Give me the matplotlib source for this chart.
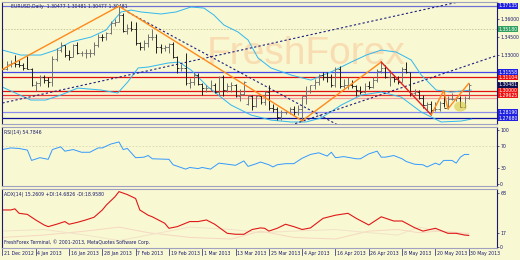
import matplotlib.pyplot as plt
import matplotlib.transforms as mtransforms
from matplotlib.patches import Ellipse

# ---- data ----
date_labels = ['21 Dec 2012', '4 Jan 2013', '16 Jan 2013', '28 Jan 2013', '7 Feb 2013',
               '19 Feb 2013', '1 Mar 2013', '13 Mar 2013', '25 Mar 2013', '4 Apr 2013',
               '16 Apr 2013', '26 Apr 2013', '8 May 2013', '20 May 2013', '30 May 2013']
label_every = 8

opens = [1.3250, 1.3180, 1.3220, 1.3230, 1.3225, 1.3215, 1.3190, 1.3185, 1.3050, 1.3065,
         1.3115, 1.3085, 1.3070, 1.3265, 1.3345, 1.3380, 1.3300, 1.3285, 1.3385, 1.3315,
         1.3315, 1.3315, 1.3320, 1.3385, 1.3455, 1.3450, 1.3485, 1.3570, 1.3580, 1.3635,
         1.3505, 1.3525, 1.3520, 1.3400, 1.3365, 1.3400, 1.3455, 1.3455, 1.3365, 1.3360,
         1.3365, 1.3395, 1.3280, 1.3190, 1.3190, 1.3060, 1.3070, 1.3130, 1.3055, 1.3020,
         1.3025, 1.3050, 1.2985, 1.3110, 1.3005, 1.3035, 1.3045, 1.2955, 1.2970, 1.2890,
         1.2955, 1.2870, 1.2950, 1.2905, 1.2985, 1.2855, 1.2845, 1.2775, 1.2815, 1.2815,
         1.2845, 1.2815, 1.2845, 1.2950, 1.3000, 1.3045, 1.3070, 1.3135, 1.3115, 1.3110,
         1.3045, 1.3180, 1.3040, 1.3045, 1.3050, 1.3035, 1.3005, 1.2985, 1.3040, 1.3030,
         1.3085, 1.3165, 1.3190, 1.3115, 1.3115, 1.3100, 1.3075, 1.3185, 1.3155, 1.2975,
         1.2990, 1.2935, 1.2880, 1.2885, 1.2835, 1.2845, 1.2895, 1.2855, 1.2930, 1.2930,
         1.2935, 1.2860, 1.2940]
highs = [1.3265, 1.3245, 1.3260, 1.3300, 1.3255, 1.3230, 1.3295, 1.3190, 1.3080, 1.3135,
         1.3135, 1.3110, 1.3290, 1.3360, 1.3405, 1.3385, 1.3340, 1.3395, 1.3405, 1.3335,
         1.3350, 1.3350, 1.3405, 1.3480, 1.3475, 1.3495, 1.3585, 1.3600, 1.3711, 1.3650,
         1.3560, 1.3585, 1.3575, 1.3410, 1.3430, 1.3480, 1.3520, 1.3475, 1.3395, 1.3385,
         1.3400, 1.3405, 1.3290, 1.3225, 1.3320, 1.3105, 1.3160, 1.3145, 1.3065, 1.3045,
         1.3085, 1.3060, 1.3125, 1.3130, 1.3060, 1.3075, 1.3055, 1.3010, 1.3080, 1.2965,
         1.2965, 1.2960, 1.2965, 1.3000, 1.3050, 1.2885, 1.2860, 1.2840, 1.2825, 1.2860,
         1.2870, 1.2880, 1.2955, 1.3035, 1.3050, 1.3095, 1.3140, 1.3160, 1.3155, 1.3140,
         1.3200, 1.3205, 1.3100, 1.3110, 1.3090, 1.3045, 1.3035, 1.3060, 1.3080, 1.3110,
         1.3180, 1.3240, 1.3215, 1.3170, 1.3130, 1.3120, 1.3195, 1.3240, 1.3160, 1.3010,
         1.3005, 1.2960, 1.2905, 1.2915, 1.2900, 1.2910, 1.3000, 1.2955, 1.2975, 1.2945,
         1.2955, 1.2955, 1.3060]
lows = [1.3175, 1.3175, 1.3195, 1.3200, 1.3200, 1.3175, 1.3180, 1.3040, 1.2995, 1.3035,
        1.3060, 1.3030, 1.3035, 1.3250, 1.3325, 1.3285, 1.3260, 1.3280, 1.3305, 1.3290,
        1.3270, 1.3285, 1.3300, 1.3370, 1.3420, 1.3430, 1.3475, 1.3545, 1.3575, 1.3495,
        1.3475, 1.3505, 1.3380, 1.3345, 1.3340, 1.3370, 1.3430, 1.3315, 1.3320, 1.3330,
        1.3315, 1.3270, 1.3145, 1.3165, 1.3045, 1.3020, 1.3050, 1.3050, 1.2965, 1.2990,
        1.3000, 1.2975, 1.2965, 1.2955, 1.2990, 1.2985, 1.2945, 1.2910, 1.2960, 1.2880,
        1.2840, 1.2860, 1.2885, 1.2880, 1.2835, 1.2815, 1.2750, 1.2750, 1.2800, 1.2800,
        1.2795, 1.2790, 1.2745, 1.2885, 1.2980, 1.3015, 1.3050, 1.3090, 1.3070, 1.3030,
        1.3030, 1.3025, 1.3025, 1.3010, 1.3020, 1.2955, 1.2970, 1.2975, 1.3010, 1.3025,
        1.3070, 1.3150, 1.3105, 1.3040, 1.3075, 1.3055, 1.3070, 1.3145, 1.2955, 1.2960,
        1.2925, 1.2855, 1.2840, 1.2795, 1.2830, 1.2830, 1.2860, 1.2845, 1.2920, 1.2915,
        1.2860, 1.2855, 1.2925]
closes = [1.3180, 1.3220, 1.3230, 1.3225, 1.3215, 1.3190, 1.3185, 1.3050, 1.3065, 1.3115,
          1.3085, 1.3070, 1.3265, 1.3345, 1.3380, 1.3300, 1.3285, 1.3385, 1.3315, 1.3315,
          1.3315, 1.3320, 1.3385, 1.3455, 1.3450, 1.3485, 1.3570, 1.3580, 1.3635, 1.3505,
          1.3525, 1.3520, 1.3400, 1.3365, 1.3400, 1.3455, 1.3455, 1.3365, 1.3360, 1.3365,
          1.3395, 1.3280, 1.3190, 1.3190, 1.3060, 1.3070, 1.3130, 1.3055, 1.3020, 1.3025,
          1.3050, 1.2985, 1.3110, 1.3005, 1.3035, 1.3045, 1.2955, 1.2970, 1.3075, 1.2955,
          1.2870, 1.2950, 1.2905, 1.2985, 1.2855, 1.2845, 1.2775, 1.2815, 1.2815, 1.2845,
          1.2815, 1.2845, 1.2950, 1.3000, 1.3045, 1.3070, 1.3135, 1.3115, 1.3110, 1.3045,
          1.3180, 1.3040, 1.3045, 1.3050, 1.3035, 1.3005, 1.2985, 1.3040, 1.3030, 1.3085,
          1.3165, 1.3190, 1.3115, 1.3115, 1.3100, 1.3075, 1.3185, 1.3155, 1.2975, 1.2990,
          1.2935, 1.2880, 1.2885, 1.2835, 1.2845, 1.2895, 1.2855, 1.2930, 1.2930, 1.2935,
          1.2860, 1.2940, 1.3048]

# bollinger-like envelope (bar index, price)
band_x = [0, 4.4, 9.2, 12.8, 16.4, 21.3, 24.9, 26.8, 28.5, 30.9, 33.3, 38.1, 41.7, 45.3,
          48.4, 50.8, 53.2, 56.6, 59, 61.4, 64.5, 69.3, 74.1, 78.9, 83.8, 87.4, 91, 94.6,
          98.2, 100.6, 104.2, 107.8, 112.6]
band_up = [1.3341, 1.3299, 1.3299, 1.3341, 1.3409, 1.3451, 1.3510, 1.3594, 1.3662, 1.3678,
           1.3662, 1.3645, 1.3662, 1.3704, 1.3695, 1.3636, 1.3552, 1.3493, 1.3426, 1.3274,
           1.3190, 1.3131, 1.3088, 1.3156, 1.3240, 1.3299, 1.3341, 1.3324, 1.3257, 1.3131,
           1.3004, 1.2987, 1.3004]
band_lo_x = [0, 6.8, 10.4, 14, 18.1, 23.7, 27.7, 30.1, 32.6, 35, 39.8, 42.4, 45.3, 49.4,
             54.9, 59.7, 64.5, 69.3, 72.9, 76.5, 81.4, 86.2, 91, 95.8, 100.6, 105.4, 110.2, 112.6]
band_lo = [1.3029, 1.2920, 1.2920, 1.2962, 1.3021, 1.3004, 1.2979, 1.3072, 1.3190, 1.3198,
           1.3232, 1.3240, 1.3173, 1.3030, 1.2878, 1.2794, 1.2751, 1.2735, 1.2735, 1.2768,
           1.2878, 1.2962, 1.2987, 1.2945, 1.2819, 1.2735, 1.2743, 1.2759]

# zigzag / trend lines (bar index, price)
zz_x = [0, 28, 72, 91]
zz_y = [1.3178, 1.3711, 1.2745, 1.3240]
zz_red_x = [91, 103]
zz_red_y = [1.3240, 1.2795]
zz_last_x = [103, 106, 107, 112]
zz_last_y = [1.2795, 1.3000, 1.2845, 1.3060]
trend1_x, trend1_y = [0, 109.5], [1.2895, 1.3746]
trend2_x, trend2_y = [30.1, 80.6], [1.3661, 1.2709]
trend3_x, trend3_y = [69.3, 119.1], [1.2709, 1.3299]

# horizontal levels: line price, colour, label, label price, label box colour
levels = [(1.37135, '#6F6FD8', '1.37135', 1.37135, '#2020E0'),
          (1.31558, '#4848E8', '1.31558', 1.31558, '#2020E0'),
          (1.31104, '#E01010', '1.31104', 1.31104, '#F01010'),
          (1.29950, '#E01010', '1.30000', 1.30020, '#F01010'),
          (1.29625, '#E83030', '1.29625', 1.29560, '#F01010'),
          (1.29370, '#F4A0A0', None, None, None),
          (1.28190, '#8C8CF0', '1.28190', 1.28190, '#2020E0'),
          (1.27680, '#1010A0', '1.27680', 1.27680, '#2020E0')]
dotted_level = 1.3518
bid = 1.30481

rsi_x = [0, 2, 4, 6, 7, 9, 11, 12, 14, 15, 17, 19, 21, 23, 24, 26, 28, 29, 30, 32, 34, 35,
         36, 40, 41, 44, 45, 47, 48, 50, 52, 53, 56, 58, 59, 61, 62, 64, 65, 66, 68, 70, 72,
         74, 76, 78, 79, 80, 82, 85, 86, 88, 90, 91, 92, 94, 96, 97, 99, 101, 102, 104, 105,
         106, 108, 109, 110, 111, 112]
rsi = [64, 67, 66, 63, 44, 49, 46, 64, 69, 61, 64, 59, 59, 67, 67, 74, 78, 64, 66, 49, 50, 53,
       47, 46, 36, 28, 31, 29, 31, 28, 39, 38, 35, 43, 33, 38, 41, 36, 32, 36, 38, 38, 48,
       55, 58, 52, 59, 49, 51, 47, 47, 56, 61, 50, 50, 53, 47, 42, 37, 36, 32, 39, 36,
       44, 44, 39, 50, 55, 55]

adx_x = [0, 2, 3, 4, 6, 8, 10, 11, 13, 15, 16, 18, 20, 22, 24, 25, 27, 28, 30, 32, 33, 35,
         36, 39, 40, 42, 45, 47, 49, 51, 54, 56, 58, 60, 62, 63, 64, 66, 68, 70, 72, 74, 77,
         80, 83, 85, 88, 91, 94, 96, 99, 101, 104, 107, 109, 111, 112]
adx = [46.6, 46.6, 48, 42.4, 41, 34, 27.7, 25.6, 28.6, 32, 28.6, 31, 34, 37.4, 46.6, 53, 63,
       69.7, 66, 61, 46.6, 40, 38, 29.8, 23.5, 25.6, 32, 32, 34, 28.6, 17.2, 16, 16, 22, 24,
       23.5, 20, 23.5, 28.6, 25.6, 22, 24, 36, 40, 42.4, 36, 27.7, 38, 32.7, 32.7, 24.3, 20,
       23.5, 17.2, 17.2, 15, 14.5]
di_x = [0, 10, 20, 28, 35, 45, 55, 62, 70, 80, 88, 95, 100, 105, 112]
di_plus = [12, 15, 20, 25, 18, 12, 10, 20, 12, 10, 20, 22, 18, 20, 17]
di_minus = [20, 22, 15, 8, 15, 25, 22, 18, 20, 22, 18, 15, 25, 20, 15]

# ---- drawing ----
BG = '#F8F8D2'
NAVY = '#1A1A6E'
FS = 3.3

fig = plt.figure(figsize=(5.2, 2.6), dpi=100, facecolor=BG)


def px_axes(x0, y0, x1, y1):
    a = fig.add_axes([x0 / 520, 1 - y1 / 260, (x1 - x0) / 520, (y1 - y0) / 260])
    a.set_facecolor(BG)
    a.set_xlim(-0.1, 118.8)
    for s in a.spines.values():
        s.set_color(NAVY)
        s.set_linewidth(0.8)
    a.spines['top'].set_color('#A0A0C0')
    a.spines['bottom'].set_color('#A0A0C0')
    a.yaxis.tick_right()
    a.tick_params(axis='y', labelsize=FS, length=1.5, width=0.5, colors=NAVY, pad=0.8)
    a.tick_params(axis='x', length=0, labelbottom=False)
    return a


ax = px_axes(2, 2, 497, 124)
ax_rsi = px_axes(2, 127, 497, 186)
ax_adx = px_axes(2, 189, 497, 248)

ax.set_ylim(1.2718, 1.3746)
ax.set_yticks([1.36, 1.345, 1.33])
ax.set_yticklabels(['1.36000', '1.34500', '1.33000'])

# watermark
ax.text(0.615, 0.57, 'FreshForex', transform=ax.transAxes, fontsize=28,
        family='Liberation Sans', color='#F8DDB2', ha='center', va='center', zorder=0)

# levels
rt = mtransforms.blended_transform_factory(ax.transAxes, ax.transData)
box_kw = dict(fontsize=FS, color='white', va='center', ha='left', clip_on=False)
for price, col, lab, lab_y, box in levels:
    ax.axhline(price, color=col, lw=0.9, zorder=1)
    if lab:
        ax.text(1.003, lab_y, lab, transform=rt,
                bbox=dict(boxstyle='square,pad=0.05', fc=box, ec='none'), **box_kw)
ax.axhline(dotted_level, color='#C8C89A', lw=0.7, ls=(0, (1.5, 1.5)), zorder=1)
ax.text(1.003, dotted_level, '1.35180', transform=rt,
        bbox=dict(boxstyle='square,pad=0.05', fc='#30A060', ec='none'), **box_kw)
ax.text(1.003, bid, '1.30481', transform=rt,
        bbox=dict(boxstyle='square,pad=0.05', fc='#101050', ec='none'), **box_kw)

# bands
ax.plot(band_x, band_up, color='#30B8F0', lw=0.7, zorder=2)
ax.plot(band_lo_x, band_lo, color='#30B8F0', lw=0.7, zorder=2)

# trend lines
for tx, ty in [(trend1_x, trend1_y), (trend2_x, trend2_y), (trend3_x, trend3_y)]:
    ax.plot(tx, ty, color='#202080', lw=0.8, ls=(0, (2, 2)), zorder=2)

# bars
x = list(range(len(closes)))
bar_col = ['#202020' if c < o else '#707070' for o, c in zip(opens, closes)]
ax.vlines(x, lows, highs, color=bar_col, lw=0.7, zorder=3)
ax.hlines(opens, [i - 0.45 for i in x], x, color=bar_col, lw=0.6, zorder=3)
ax.hlines(closes, x, [i + 0.45 for i in x], color=bar_col, lw=0.6, zorder=3)

# zigzag
ax.plot(zz_x, zz_y, color='#FF8A1A', lw=1.0, zorder=4)
ax.plot(zz_red_x, zz_red_y, color='#E02020', lw=1.0, zorder=4)
ax.plot(zz_last_x, zz_last_y, color='#FF8A1A', lw=1.0, zorder=4)
ax.add_patch(Ellipse((110, 1.2865), 3.0, 0.0085, fc='#D8C840', ec='none', alpha=0.6, zorder=5))

ax.text(0.018, 0.965, 'EURUSD,Daily  1.30477 1.30481 1.30477 1.30481', transform=ax.transAxes,
        fontsize=FS, color=NAVY, va='center', ha='left')

# RSI
ax_rsi.set_ylim(-3.1, 105.5)
ax_rsi.set_yticks([100, 70, 30, 0])
ax_rsi.axhline(70, color='#D8D8B0', lw=0.6, ls=(0, (2, 2)))
ax_rsi.plot(rsi_x, rsi, color='#3399FF', lw=0.7)
ax_rsi.text(0.004, 0.9, 'RSI(14) 54.7846', transform=ax_rsi.transAxes, fontsize=FS,
            color=NAVY, va='center', ha='left')

# ADX
ax_adx.set_ylim(-1.3, 73)
ax_adx.set_yticks([68, 17, 0])
ax_adx.plot(di_x, di_plus, color='#F6D8C0', lw=0.7)
ax_adx.plot(di_x, di_minus, color='#F2E2C8', lw=0.7)
ax_adx.plot(adx_x, adx, color='#E01818', lw=0.8)
ax_adx.text(0.004, 0.9, 'ADX(14) 15.2609 +DI:14.6826 -DI:18.9580', transform=ax_adx.transAxes,
            fontsize=FS, color=NAVY, va='center', ha='left')
ax_adx.text(0.004, 0.05, 'FreshForex Terminal, © 2001-2013, MetaQuotes Software Corp.',
            transform=ax_adx.transAxes, fontsize=FS, color=NAVY, va='bottom', ha='left')

bt = mtransforms.blended_transform_factory(ax_adx.transData, ax_adx.transAxes)
for k, lab in enumerate(date_labels):
    xi = k * label_every
    ax_adx.plot([xi, xi], [-0.02, -0.12], transform=bt, color=NAVY, lw=0.5, clip_on=False)
    ax_adx.text(xi + 0.4, -0.1, lab, transform=bt, fontsize=FS, color=NAVY,
                va='center', ha='left', clip_on=False)

fig.savefig('out.png', dpi=100, facecolor=BG)
